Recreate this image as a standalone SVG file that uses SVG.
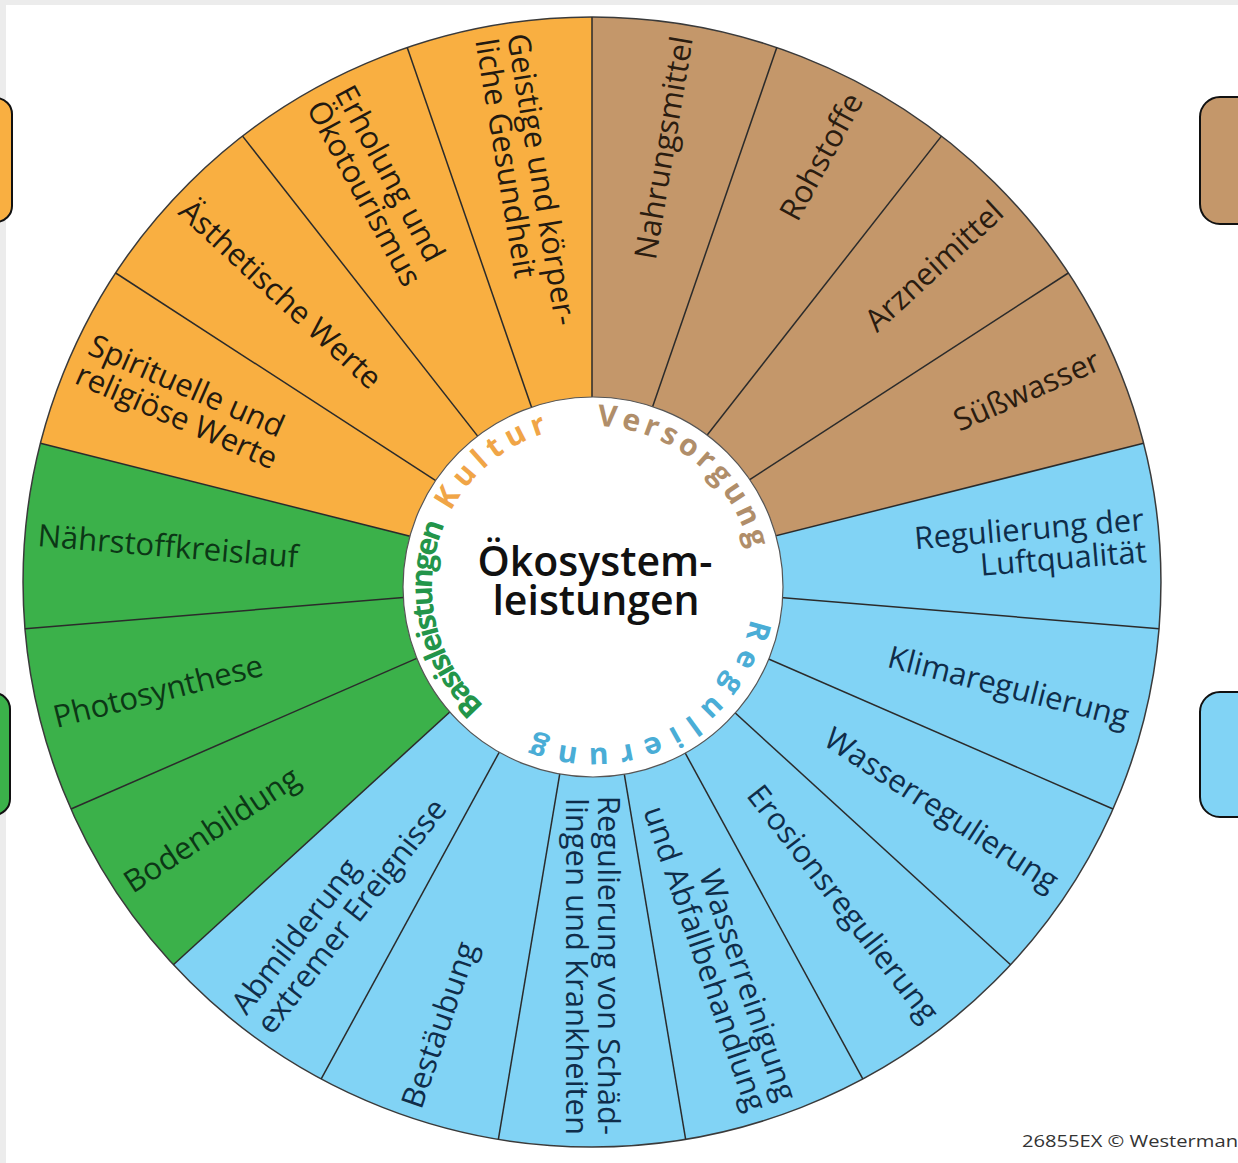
<svg xmlns="http://www.w3.org/2000/svg" width="1238" height="1163" viewBox="0 0 1238 1163">
  <style>
    .lbl { font-family: "Open Sans", "Liberation Sans", sans-serif; font-size: 31px; }
    .end { text-anchor: end; }
    .k { fill: #231a10; }
    .v { fill: #2a1c10; }
    .r { fill: #0f2d4a; }
    .b { fill: #0c3716; }
    .ring { font-family: "Open Sans", "Liberation Sans", sans-serif; font-weight: 700; font-size: 30px; }
    .hubtxt { font-family: "Open Sans", "Liberation Sans", sans-serif; font-weight: 600; font-size: 41px; fill: #111; text-anchor: middle; }
    .div { stroke: #2b2b2b; stroke-width: 1.5; fill: none; }
    .tab { stroke: #111; stroke-width: 2; }
  </style>
  <defs>
    <!-- clockwise baseline circle for the category names, starting at the top -->
    <path id="ringPath" d="M 593 426 A 161 161 0 1 1 593 748 A 161 161 0 1 1 593 426"/>
  </defs>

  <rect x="0" y="0" width="1238" height="1163" fill="#ffffff"/>
  <rect x="0" y="0" width="1238" height="5" fill="#ececec"/>
  <rect x="0" y="0" width="6" height="1163" fill="#ececec"/>

  <!-- side tabs -->
  <g id="tab-kultur"><rect class="tab" x="-30" y="98" width="42" height="124" rx="16" fill="#f9af41"/></g>
  <g id="tab-basis"><rect class="tab" x="-30" y="693" width="40" height="122" rx="16" fill="#3bb14a"/></g>
  <g id="tab-versorgung"><rect class="tab" x="1200" y="97" width="60" height="127" rx="20" fill="#c4976a"/></g>
  <g id="tab-regulierung"><rect class="tab" x="1200" y="692" width="60" height="125" rx="20" fill="#81d3f5"/></g>

  <!-- wheel, very slightly wider than tall -->
  <g id="wheel" transform="translate(592 582) scale(1.007 1) translate(-592 -582)">
    <path id="wedge-versorgung" d="M 592 582 L 592 17 A 565 565 0 0 1 1139.7 443.3 Z" fill="#c4976a"/>
    <path id="wedge-regulierung" d="M 592 582 L 1139.7 443.3 A 565 565 0 0 1 176.3 964.7 Z" fill="#81d3f5"/>
    <path id="wedge-basis" d="M 592 582 L 176.3 964.7 A 565 565 0 0 1 44.3 443.3 Z" fill="#3bb14a"/>
    <path id="wedge-kultur" d="M 592 582 L 44.3 443.3 A 565 565 0 0 1 592 17 Z" fill="#f9af41"/>
    <circle cx="592" cy="582" r="565" fill="none" stroke="#3a3a3a" stroke-width="1.5"/>

    <!-- sector dividers -->
    <g id="dividers" class="div">
      <line x1="592" y1="582" x2="592" y2="17"/>
      <line x1="592" y1="582" x2="775.5" y2="47.6"/>
      <line x1="592" y1="582" x2="939.0" y2="136.1"/>
      <line x1="592" y1="582" x2="1065.0" y2="273.0"/>
      <line x1="592" y1="582" x2="1139.7" y2="443.3"/>
      <line x1="592" y1="582" x2="1155.1" y2="628.7"/>
      <line x1="592" y1="582" x2="1109.4" y2="809.0"/>
      <line x1="592" y1="582" x2="1007.7" y2="964.7"/>
      <line x1="592" y1="582" x2="860.9" y2="1078.9"/>
      <line x1="592" y1="582" x2="685.0" y2="1139.3"/>
      <line x1="592" y1="582" x2="499.0" y2="1139.3"/>
      <line x1="592" y1="582" x2="323.1" y2="1078.9"/>
      <line x1="592" y1="582" x2="176.3" y2="964.7"/>
      <line x1="592" y1="582" x2="74.6" y2="809.0"/>
      <line x1="592" y1="582" x2="28.9" y2="628.7"/>
      <line x1="592" y1="582" x2="44.3" y2="443.3"/>
      <line x1="592" y1="582" x2="119.0" y2="273.0"/>
      <line x1="592" y1="582" x2="245.0" y2="136.1"/>
      <line x1="592" y1="582" x2="408.5" y2="47.6"/>
    </g>
  </g>

  <!-- hub -->
  <g id="hub">
    <circle cx="593" cy="587" r="190" fill="#ffffff" stroke="#555" stroke-width="1.2"/>
    <text class="hubtxt"><tspan x="595" y="576">Ökosystem-</tspan><tspan x="596" y="615">leistungen</tspan></text>
    <text class="ring" fill="#f0a547"><textPath href="#ringPath" startOffset="837" textLength="128" lengthAdjust="spacing">Kultur</textPath></text>
    <text class="ring" fill="#b08e6a"><textPath href="#ringPath" startOffset="4" textLength="210" lengthAdjust="spacing">Versorgung</textPath></text>
    <text class="ring" fill="#4aadd6"><textPath href="#ringPath" startOffset="285" textLength="282" lengthAdjust="spacing">Regulierung</textPath></text>
    <text class="ring" fill="#23954a" font-size="25"><textPath href="#ringPath" startOffset="625" textLength="198" lengthAdjust="spacing">Basisleistungen</textPath></text>
  </g>

  <!-- Versorgung -->
  <g id="nahrungsmittel" transform="translate(592 582) rotate(-80.526)"><text class="lbl end v" x="553" y="10">Nahrungsmittel</text></g>
  <g id="rohstoffe" transform="translate(592 582) rotate(-61.579)"><text class="lbl end v" x="553" y="10">Rohstoffe</text></g>
  <g id="arzneimittel" transform="translate(592 582) rotate(-42.632)"><text class="lbl end v" x="553" y="10">Arzneimittel</text></g>
  <g id="suesswasser" transform="translate(592 582) rotate(-23.684)"><text class="lbl end v" x="553" y="10">Süßwasser</text></g>

  <!-- Regulierung -->
  <g id="luftqualitaet" transform="translate(592 582) rotate(-4.737)"><text class="lbl end r" x="555" y="-6">Regulierung der</text><text class="lbl end r" x="555" y="26">Luftqualität</text></g>
  <g id="klima" transform="translate(592 582) rotate(14.211)"><text class="lbl end r" x="553" y="10">Klimaregulierung</text></g>
  <g id="wasserregulierung" transform="translate(592 582) rotate(33.158)"><text class="lbl end r" x="553" y="10">Wasserregulierung</text></g>
  <g id="erosion" transform="translate(592 582) rotate(52.105)"><text class="lbl end r" x="553" y="10">Erosionsregulierung</text></g>
  <g id="wasserreinigung" transform="translate(592 582) rotate(71.053)"><text class="lbl end r" x="553" y="-6">Wasserreinigung</text><text class="lbl end r" x="553" y="26">und Abfallbehandlung</text></g>
  <g id="schaedlinge" transform="translate(592 582) rotate(90)"><text class="lbl end r" x="553" y="-6">Regulierung von Schäd-</text><text class="lbl end r" x="553" y="26">lingen und Krankheiten</text></g>
  <g id="bestaeubung" transform="translate(592 582) rotate(-71.053)"><text class="lbl r" x="-555" y="10">Bestäubung</text></g>
  <g id="abmilderung" transform="translate(592 582) rotate(-52.105)"><text class="lbl r" x="-555" y="-6">Abmilderung</text><text class="lbl r" x="-555" y="26">extremer Ereignisse</text></g>

  <!-- Basisleistungen -->
  <g id="bodenbildung" transform="translate(592 582) rotate(-33.158)"><text class="lbl b" x="-555" y="10">Bodenbildung</text></g>
  <g id="photosynthese" transform="translate(592 582) rotate(-14.211)"><text class="lbl b" x="-555" y="10">Photosynthese</text></g>
  <g id="naehrstoff" transform="translate(592 582) rotate(4.737)"><text class="lbl b" x="-556" y="10">Nährstoffkreislauf</text></g>

  <!-- Kultur -->
  <g id="spirituell" transform="translate(592 582) rotate(23.684)"><text class="lbl k" x="-555" y="-6">Spirituelle und</text><text class="lbl k" x="-555" y="26">religiöse Werte</text></g>
  <g id="aesthetisch" transform="translate(592 582) rotate(42.632)"><text class="lbl k" x="-555" y="10">Ästhetische Werte</text></g>
  <g id="erholung" transform="translate(592 582) rotate(61.579)"><text class="lbl k" x="-553" y="-6">Erholung und</text><text class="lbl k" x="-553" y="26">Ökotourismus</text></g>
  <g id="gesundheit" transform="translate(592 582) rotate(80.526)"><text class="lbl k" x="-553" y="-6">Geistige und körper-</text><text class="lbl k" x="-553" y="26">liche Gesundheit</text></g>

  <text x="1022" y="1147" font-family="'Open Sans', 'Liberation Sans', sans-serif" font-size="17" fill="#333" textLength="216" lengthAdjust="spacingAndGlyphs">26855EX © Westerman</text>
</svg>
